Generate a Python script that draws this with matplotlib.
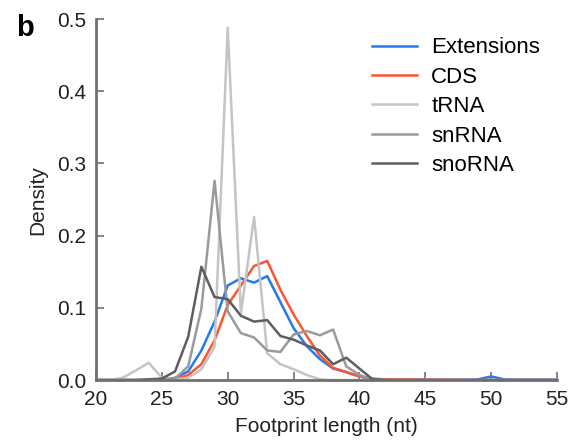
import matplotlib
matplotlib.use("Agg")
import matplotlib.pyplot as plt

plt.rcParams['font.family'] = ['Liberation Sans', 'DejaVu Sans']

lengths = list(range(20, 56))

extensions = [0, 0, 0, 0, 0, 0.001, 0.003, 0.012, 0.041, 0.081, 0.131, 0.141, 0.135, 0.144,
              0.108, 0.072, 0.047, 0.029, 0.016, 0.011, 0.005, 0.001, 0.0005, 0.0005, 0.0005,
              0.0005, 0.0005, 0.0005, 0.0005, 0.001, 0.005, 0.001, 0.0005, 0.0005, 0.0005, 0.0005]
cds = [0, 0, 0, 0, 0, 0.001, 0.001, 0.007, 0.022, 0.055, 0.104, 0.131, 0.158, 0.165,
       0.125, 0.091, 0.061, 0.034, 0.017, 0.011, 0.005, 0.002, 0.001, 0.001, 0.001,
       0.0005, 0.0005, 0.0005, 0, 0, 0, 0, 0, 0, 0, 0]
trna = [0, 0, 0.003, 0.013, 0.024, 0.003, 0.001, 0.003, 0.015, 0.046, 0.488, 0.092, 0.226, 0.037,
        0.022, 0.015, 0.007, 0.001, 0, 0, 0, 0, 0, 0, 0,
        0, 0, 0, 0, 0, 0, 0, 0, 0, 0, 0]
snrna = [0, 0, 0, 0, 0, 0.001, 0.002, 0.019, 0.099, 0.276, 0.095, 0.065, 0.059, 0.041,
         0.039, 0.063, 0.068, 0.062, 0.070, 0.019, 0.007, 0.001, 0, 0, 0,
         0, 0, 0, 0, 0, 0, 0, 0, 0, 0, 0]
snorna = [0, 0, 0, 0, 0.001, 0.002, 0.012, 0.060, 0.157, 0.115, 0.112, 0.089, 0.081, 0.083,
          0.061, 0.056, 0.048, 0.041, 0.022, 0.031, 0.016, 0.001, 0, 0, 0,
          0, 0, 0, 0, 0, 0, 0, 0, 0, 0, 0]

series = [
    ("Extensions", extensions, "#2479f2"),
    ("CDS", cds, "#fc5533"),
    ("tRNA", trna, "#c4c4c4"),
    ("snRNA", snrna, "#9a9a9a"),
    ("snoRNA", snorna, "#5e5e5e"),
]

fig = plt.figure(figsize=(5.82, 4.44), dpi=100)
ax = fig.add_axes([0.165, 0.144, 0.792, 0.813])

for name, vals, col in series:
    ax.plot(lengths, vals, color=col, lw=1.8, label=name)

ax.set_xlim(20, 55)
ax.set_ylim(0, 0.5)
ax.set_xticks([20, 25, 30, 35, 40, 45, 50, 55])
ax.set_yticks([0.0, 0.1, 0.2, 0.3, 0.4, 0.5])
ax.set_yticklabels(["0.0", "0.1", "0.2", "0.3", "0.4", "0.5"])

for s in ["top", "right"]:
    ax.spines[s].set_visible(False)
for s in ["left", "bottom"]:
    ax.spines[s].set_color("#707070")
    ax.spines[s].set_linewidth(2)
ax.tick_params(direction="in", length=6, width=1.2, color="#707070",
               labelsize=15, labelcolor="#222222")
ax.tick_params(axis="x", pad=7)
ax.tick_params(axis="y", pad=7)

ax.set_xlabel("Footprint length (nt)", fontsize=15, color="#222222", labelpad=6)
ax.set_ylabel("Density", fontsize=15, color="#222222", labelpad=7)

ax.legend(loc="upper right", bbox_to_anchor=(1.007, 1.005), frameon=False, fontsize=16,
          handlelength=2.0, handletextpad=0.65, labelspacing=0.38)

fig.text(0.028, 0.918, "b", fontsize=21, fontweight="bold")

fig.savefig("out.png", dpi=100)
